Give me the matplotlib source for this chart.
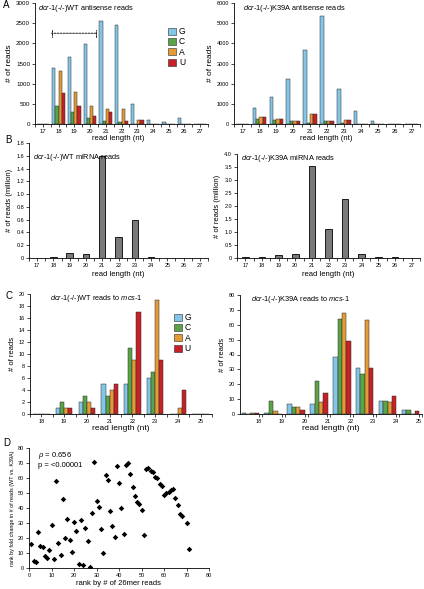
import matplotlib.pyplot as plt
import numpy as np
from matplotlib.patches import Patch

plt.rcParams['font.family'] = ['Liberation Sans', 'DejaVu Sans']
plt.rcParams['mathtext.fontset'] = 'custom'
plt.rcParams['mathtext.it'] = 'Liberation Sans:italic'
plt.rcParams['mathtext.rm'] = 'Liberation Sans'

W, H = 424, 589

# ---- data ----
nts = ['G', 'C', 'A', 'U']
nt_colors = ['#84c6e8', '#5aa447', '#e69a35', '#c62128']

lengths_a = [17, 18, 19, 20, 21, 22, 23, 24, 25, 26, 27]
wt_antisense = [
    [0, 1400, 1650, 1980, 2550, 2450, 490, 90, 60, 160, 0],   # G
    [0, 440, 290, 150, 70, 60, 10, 5, 0, 0, 0],               # C
    [0, 1310, 800, 440, 360, 360, 110, 10, 0, 0, 0],          # A
    [0, 760, 440, 200, 290, 70, 100, 5, 0, 0, 0],             # U
]
k39a_antisense = [
    [0, 800, 1350, 2230, 3650, 5360, 1720, 640, 170, 0, 0],
    [0, 230, 200, 130, 70, 130, 40, 10, 0, 20, 0],
    [0, 330, 240, 130, 510, 140, 200, 10, 0, 0, 0],
    [0, 340, 240, 130, 510, 140, 200, 10, 0, 0, 0],
]
bracket_span = (18, 20)
bracket_level = 2250

wt_mirna = [0, 0.01, 0.08, 0.06, 1.59, 0.33, 0.60, 0.02, 0, 0, 0]
k39a_mirna = [0.02, 0.03, 0.12, 0.14, 3.55, 1.12, 2.26, 0.15, 0.02, 0.02, 0.01]

lengths_c = [18, 19, 20, 21, 22, 23, 24, 25]
wt_mcs1 = [
    [0, 1, 2, 5, 5, 6, 0, 0],
    [0, 2, 3, 3, 11, 7, 0, 0],
    [0, 1, 2, 4, 9, 19, 1, 0],
    [0, 1, 1, 5, 17, 9, 4, 0],
]
k39a_mcs1 = [
    [1, 1, 7, 7, 38, 31, 9, 3],
    [0, 9, 5, 22, 64, 27, 9, 3],
    [1, 2, 5, 8, 68, 63, 8, 0],
    [1, 0, 3, 14, 49, 31, 12, 2],
]

rank_26mer = [1, 2, 3, 4, 5, 6, 7, 8, 9, 10, 11, 12, 13, 14, 15, 16, 17, 18, 19, 20,
              21, 22, 23, 24, 25, 26, 27, 28, 29, 30, 31, 32, 33, 34, 35, 36, 37, 38, 39, 40,
              41, 42, 43, 44, 45, 46, 47, 48, 49, 50, 51, 52, 53, 54, 55, 56, 57, 58, 59, 60,
              61, 62, 63, 64, 65, 66, 67, 68, 70, 71]
rank_fold = [16, 5, 4, 24, 15, 14, 8, 7, 12, 29, 6, 58, 17, 9, 46, 20, 33, 19, 11, 31,
             25, 3, 32, 2, 27, 18, 1, 37, 71, 45, 41, 26, 10, 62, 59, 38, 28, 21, 68, 57,
             40, 23, 69, 70, 63, 54, 48, 44, 43, 39, 22, 66, 67, 65, 64, 61, 60, 56, 55, 49,
             50, 51, 52, 53, 47, 42, 36, 35, 30, 13]


def rect(l, t, r, b):
    return [l / W, 1 - b / H, (r - l) / W, (b - t) / H]


def style_axes(ax, tick_size=4.5):
    for s in ['top', 'right']:
        ax.spines[s].set_visible(False)
    for s in ['left', 'bottom']:
        ax.spines[s].set_linewidth(0.6)
    ax.tick_params(labelsize=tick_size, length=2, width=0.5, pad=1.5)


def cat_axis(ax, labels, offset=0.0):
    x = np.arange(len(labels))
    ax.set_xticks(x + offset)
    ax.set_xticklabels([str(v) for v in labels])
    ax.set_xticks(np.arange(len(labels) + 1) - 0.5, minor=True)
    ax.tick_params(axis='x', which='major', length=0, pad=3)
    ax.tick_params(axis='x', which='minor', length=2, width=0.5)


def grouped(ax, series, bw):
    x = np.arange(len(series[0]))
    for i, vals in enumerate(series):
        ax.bar(x + (i - 1.5) * bw, vals, bw, color=nt_colors[i],
               edgecolor='#2a2a2a', linewidth=0.35)


def title(ax, x, y, s, size=5.3):
    ax.text(x, y, s, transform=ax.transAxes, fontsize=size, ha='left', va='center')


def nt_legend(ax, x, y):
    handles = [Patch(facecolor=c, edgecolor='#2a2a2a', linewidth=0.4) for c in nt_colors]
    ax.legend(handles, nts, loc='upper left', bbox_to_anchor=(x, y), frameon=False,
              fontsize=6.2, handlelength=0.9, handleheight=0.9, handletextpad=0.35,
              labelspacing=0.15, borderaxespad=0, borderpad=0)


fig = plt.figure(figsize=(W / 100, H / 100), dpi=100)

# ---- A left ----
ax = fig.add_axes(rect(35, 3, 208, 124))
grouped(ax, wt_antisense, 0.2)
cat_axis(ax, lengths_a)
ax.set_xlim(-0.5, len(lengths_a) - 0.5)
ax.set_ylim(0, 3000)
ax.set_yticks(range(0, 3001, 500))
style_axes(ax)
ax.tick_params(axis='x', labelsize=4.2)
ax.set_ylabel('# of reads', fontsize=6, labelpad=2)
title(ax, 0.02, 0.955, r'$\mathit{dcr}$-$\mathit{1}$(-/-)WT antisense reads')
b0 = lengths_a.index(bracket_span[0]) - 0.45
b1 = lengths_a.index(bracket_span[1]) + 0.4
ax.annotate('', xy=(b0, bracket_level), xytext=(b1, bracket_level),
            arrowprops=dict(arrowstyle='|-|, widthA=0.25, widthB=0.25',
                            linestyle=(0, (2, 1.2)), lw=0.7, color='#222222',
                            shrinkA=0, shrinkB=0))
nt_legend(ax, 0.77, 0.80)

# ---- A right ----
ax = fig.add_axes(rect(234, 3, 420, 124))
grouped(ax, k39a_antisense, 0.2)
cat_axis(ax, lengths_a)
ax.set_xlim(-0.5, len(lengths_a) - 0.5)
ax.set_ylim(0, 6000)
ax.set_yticks(range(0, 6001, 1000))
style_axes(ax, 4)
ax.tick_params(axis='x', labelsize=4.2)
ax.set_ylabel('# of reads', fontsize=6, labelpad=2)
title(ax, 0.05, 0.955, r'$\mathit{dcr}$-$\mathit{1}$(-/-)K39A antisense reads')

# x labels for A
fig.text(118 / W, 1 - 138 / H, 'read length (nt)', fontsize=5.5, ha='center', va='center')
fig.text(326 / W, 1 - 138 / H, 'read length (nt)', fontsize=5.5, ha='center', va='center')

# ---- B left ----
ax = fig.add_axes(rect(29, 143, 208, 258))
ax.bar(np.arange(len(wt_mirna)), wt_mirna, 0.4, color='#7a7a7a', edgecolor='black', linewidth=0.6)
cat_axis(ax, lengths_a)
ax.set_xlim(-0.5, len(lengths_a) - 0.5)
ax.set_ylim(0, 1.8)
ax.set_yticks(np.arange(0, 1.81, 0.2))
ax.set_yticklabels(['0'] + ['%.1f' % v for v in np.arange(0.2, 1.81, 0.2)])
style_axes(ax, 4)
ax.set_ylabel('# of reads (million)', fontsize=5.5, labelpad=2)
ax.set_xlabel('read length (nt)', fontsize=5.5, labelpad=2)
title(ax, 0.02, 0.87, r'$\mathit{dcr}$-$\mathit{1}$(-/-)WT miRNA reads')

# ---- B right ----
ax = fig.add_axes(rect(237, 154, 420, 258))
ax.bar(np.arange(len(k39a_mirna)), k39a_mirna, 0.4, color='#7a7a7a', edgecolor='black', linewidth=0.6)
cat_axis(ax, lengths_a)
ax.set_xlim(-0.5, len(lengths_a) - 0.5)
ax.set_ylim(0, 4.0)
ax.set_yticks(np.arange(0, 4.01, 0.5))
ax.set_yticklabels(['0'] + ['%.1f' % v for v in np.arange(0.5, 4.01, 0.5)])
style_axes(ax, 4)
ax.set_ylabel('# of reads (million)', fontsize=5.5, labelpad=2)
ax.set_xlabel('read length (nt)', fontsize=5.5, labelpad=2)
title(ax, 0.02, 0.96, r'$\mathit{dcr}$-$\mathit{1}$(-/-)K39A miRNA reads')

# ---- C left ----
ax = fig.add_axes(rect(30, 294, 212, 414))
grouped(ax, wt_mcs1, 0.18)
cat_axis(ax, lengths_c)
ax.set_xlim(-0.5, len(lengths_c) - 0.5)
ax.set_ylim(0, 20)
ax.set_yticks(range(0, 21, 2))
style_axes(ax, 4)
ax.set_ylabel('# of reads', fontsize=5.5, labelpad=2)
ax.set_xlabel('read length (nt)', fontsize=6, labelpad=1)
title(ax, 0.11, 0.96, r'$\mathit{dcr}$-$\mathit{1}$(-/-)WT reads to $\mathit{mcs}$-$\mathit{1}$')
nt_legend(ax, 0.79, 0.84)

# ---- C right ----
ax = fig.add_axes(rect(240, 295, 422, 414))
grouped(ax, k39a_mcs1, 0.19)
cat_axis(ax, lengths_c, offset=0.37)
ax.set_xlim(-0.45, len(lengths_c) - 0.5)
ax.set_ylim(0, 80)
ax.set_yticks(range(0, 81, 10))
style_axes(ax, 4)
ax.set_ylabel('# of reads', fontsize=5.5, labelpad=2)
ax.set_xlabel('read length (nt)', fontsize=6, labelpad=1)
title(ax, 0.06, 0.96, r'$\mathit{dcr}$-$\mathit{1}$(-/-)K39A reads to $\mathit{mcs}$-$\mathit{1}$')

# ---- D ----
ax = fig.add_axes(rect(29, 448, 209, 568))
ax.scatter(rank_26mer, rank_fold, marker='D', s=8, color='black', linewidths=0)
ax.set_xlim(0, 80)
ax.set_ylim(0, 80)
ax.set_xticks(range(0, 81, 10))
ax.set_yticks(range(0, 81, 10))
style_axes(ax, 4)
ax.set_xlabel('rank by # of 26mer reads', fontsize=5.5, labelpad=1.5)
ax.set_ylabel('rank by fold change in # of reads (WT vs. K39A)', fontsize=3.9, labelpad=2)
ax.text(0.05, 0.935, r'$\rho$ = 0.656', transform=ax.transAxes, fontsize=5.5, va='center')
ax.text(0.05, 0.855, 'p = <0.00001', transform=ax.transAxes, fontsize=5.5, va='center')

# panel letters
for letter, (px, py) in zip('ABCD', [(3, 5), (5, 140), (5, 296), (3, 443)]):
    fig.text(px / W, 1 - py / H, letter, fontsize=7, ha='left', va='center')

fig.savefig('out.png', dpi=100)
